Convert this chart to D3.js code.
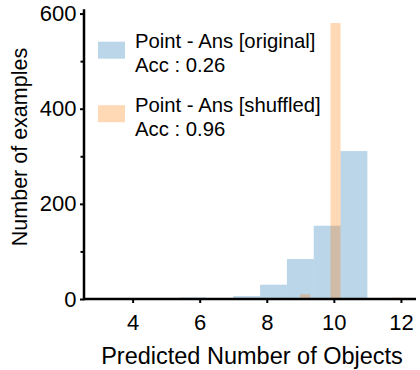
<!DOCTYPE html>
<html>
<head>
<meta charset="utf-8">
<script src="https://cdn.jsdelivr.net/npm/d3@7"></script>
<style>
  html, body { margin: 0; padding: 0; background: #fff; }
  svg { display: block; }
  text { font-family: "Liberation Sans", Arial, Helvetica, sans-serif; fill: #000; }
</style>
</head>
<body>
<svg id="chart" width="420" height="370"></svg>
<script>
// Histogram bin edges and counts for the two prediction runs
const originalEdges  = [3.0, 3.8, 4.6, 5.4, 6.2, 7.0, 7.8, 8.6, 9.4, 10.2, 11.0];
const originalCounts = [1, 0, 0, 3, 0, 6, 30, 84, 154, 311];

const shuffledEdges  = [9.0, 9.3, 9.6, 9.9, 10.2, 10.5, 10.8, 11.1, 11.4, 11.7, 12.0];
const shuffledCounts = [10, 0, 0, 580, 0, 0, 0, 0, 0, 3];

const seriesNames = ["Point - Ans [original]", "Point - Ans [shuffled]"];
const seriesAcc   = ["Acc : 0.26", "Acc : 0.96"];
const seriesColors = ["#1f77b4", "#ff7f0e"];

const xTicks = [4, 6, 8, 10, 12];
const yTicks = [0, 200, 400, 600];
const yMinorTicks = [100, 300, 500];

const xLabel = "Predicted Number of Objects";
const yLabel = "Number of examples";

const svg = d3.select("#chart");
const plot = { left: 84, right: 416, top: 9.3, bottom: 299 };

// Axis limits: data range padded by 5% (x) and 5% headroom above the tallest bar (y)
const xMin = d3.min([originalEdges[0], shuffledEdges[0]]);
const xMax = d3.max([originalEdges[originalEdges.length - 1], shuffledEdges[shuffledEdges.length - 1]]);
const xPad = (xMax - xMin) * 0.05;
const yMax = d3.max([...originalCounts, ...shuffledCounts]) * 1.05;

const x = d3.scaleLinear().domain([xMin - xPad, xMax + xPad]).range([plot.left, plot.right]);
const y = d3.scaleLinear().domain([0, yMax]).range([plot.bottom, plot.top]);

function bins(edges, counts) {
  return counts.map((c, i) => ({ x0: edges[i], x1: edges[i + 1], count: c }));
}

const series = [bins(originalEdges, originalCounts), bins(shuffledEdges, shuffledCounts)];

// Bars, semi-transparent so overlapping bins blend
series.forEach((data, si) => {
  svg.append("g")
    .selectAll("rect")
    .data(data.filter(d => d.count > 0))
    .join("rect")
    .attr("x", d => x(d.x0))
    .attr("width", d => x(d.x1) - x(d.x0))
    .attr("y", d => y(d.count))
    .attr("height", d => y(0) - y(d.count))
    .attr("fill", seriesColors[si])
    .attr("fill-opacity", 0.3);
});

// Axes
const xAxis = svg.append("g")
  .attr("transform", `translate(0,${plot.bottom})`)
  .call(d3.axisBottom(x).tickValues(xTicks).tickFormat(d3.format("d")).tickSize(4).tickPadding(11.5));

const yAxis = svg.append("g")
  .attr("transform", `translate(${plot.left},0)`)
  .call(d3.axisLeft(y).tickValues(yTicks).tickFormat(d3.format("d")).tickSize(4).tickPadding(3.5));

svg.append("g")
  .attr("transform", `translate(${plot.left},0)`)
  .call(d3.axisLeft(y).tickValues(yMinorTicks).tickFormat("").tickSize(3.5))
  .call(g => g.select(".domain").remove())
  .selectAll("line").attr("stroke", "#000").attr("stroke-width", 2);

[xAxis, yAxis].forEach(g => {
  g.select(".domain").remove();
  g.selectAll(".tick line").attr("stroke", "#000").attr("stroke-width", 2);
  g.selectAll(".tick text").attr("font-size", 22).attr("fill", "#000");
});

// Spines
svg.append("line")
  .attr("x1", plot.left).attr("x2", plot.right)
  .attr("y1", plot.bottom).attr("y2", plot.bottom)
  .attr("stroke", "#000").attr("stroke-width", 2.5);
svg.append("line")
  .attr("x1", plot.left).attr("x2", plot.left)
  .attr("y1", plot.top).attr("y2", plot.bottom + 1.25)
  .attr("stroke", "#000").attr("stroke-width", 2.5);

// Axis titles
svg.append("text")
  .attr("x", (plot.left + plot.right) / 2 + 2)
  .attr("y", 364)
  .attr("text-anchor", "middle")
  .attr("font-size", 23.5)
  .text(xLabel);

svg.append("text")
  .attr("transform", `translate(27,147) rotate(-90)`)
  .attr("text-anchor", "middle")
  .attr("font-size", 21.5)
  .text(yLabel);

// Legend
const legend = svg.append("g").attr("transform", "translate(98,33)");
seriesNames.forEach((name, i) => {
  const g = legend.append("g").attr("transform", `translate(0,${i * 63.5})`);
  g.append("rect")
    .attr("x", 0).attr("y", 8.7)
    .attr("width", 27).attr("height", 17)
    .attr("fill", seriesColors[i]).attr("fill-opacity", 0.3);
  g.append("text").attr("x", 37).attr("y", 15.3).attr("font-size", 20.3).text(name);
  g.append("text").attr("x", 37).attr("y", 39).attr("font-size", 20.3).text(seriesAcc[i]);
});
</script>
</body>
</html>
